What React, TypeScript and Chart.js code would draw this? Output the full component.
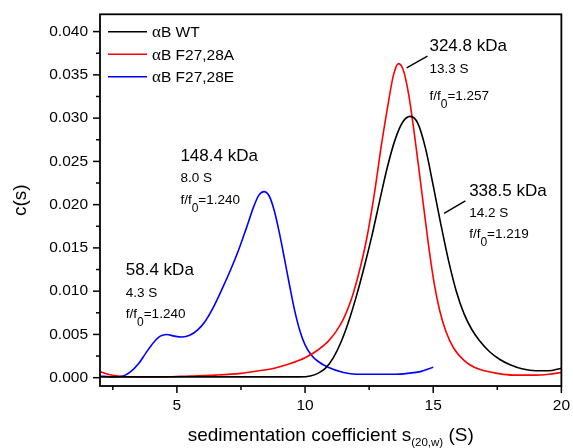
import { useEffect, useRef } from 'react';
import { Chart, registerables } from 'chart.js';

Chart.register(...registerables);

// c(s) distributions, sedimentation coefficient in S
const WT_S = [2.0, 5.0, 8.0, 9.8, 10.2, 10.5, 10.8, 11.1, 11.4, 11.7, 12.0, 12.3, 12.6, 12.9, 13.2, 13.5, 13.8, 14.1, 14.4, 14.7, 15.0, 15.3, 15.6, 15.9, 16.2, 16.5, 16.8, 17.2, 17.6, 18.0, 18.5, 19.0, 19.5, 20.0];
const WT_C = [0.0001, 0.0001, 0.0001, 0.0001, 0.0002, 0.0005, 0.0011, 0.0023, 0.0041, 0.0065, 0.0094, 0.0127, 0.0163, 0.0203, 0.0242, 0.0274, 0.0295, 0.0302, 0.0294, 0.0265, 0.0222, 0.0177, 0.0135, 0.0100, 0.0074, 0.0056, 0.0043, 0.0030, 0.0021, 0.0015, 0.0010, 0.0008, 0.0008, 0.0011];

const F27A_S = [2.0, 2.3, 2.7, 3.5, 4.5, 5.5, 6.5, 7.5, 8.2, 8.8, 9.4, 10.0, 10.5, 10.9, 11.2, 11.5, 11.8, 12.1, 12.4, 12.7, 13.0, 13.25, 13.45, 13.65, 13.85, 14.05, 14.25, 14.45, 14.65, 14.85, 15.05, 15.25, 15.5, 15.8, 16.2, 16.6, 17.0, 17.5, 18.1, 19.0, 19.5, 20.0];
const F27A_C = [0.0007, 0.0004, 0.0002, 0.0001, 0.0001, 0.0002, 0.0003, 0.0005, 0.0008, 0.0011, 0.0016, 0.0023, 0.0032, 0.0042, 0.0053, 0.0068, 0.0090, 0.0121, 0.0160, 0.0212, 0.0273, 0.0318, 0.0350, 0.0363, 0.0354, 0.0326, 0.0285, 0.0239, 0.0192, 0.0146, 0.0107, 0.0078, 0.0053, 0.0034, 0.0020, 0.0012, 0.0008, 0.0005, 0.0003, 0.0003, 0.0004, 0.0006];

const F27E_S = [2.0, 2.5, 2.9, 3.2, 3.5, 3.8, 4.1, 4.35, 4.6, 4.9, 5.2, 5.5, 5.8, 6.1, 6.4, 6.8, 7.1, 7.4, 7.7, 8.0, 8.2, 8.4, 8.6, 8.8, 9.0, 9.2, 9.4, 9.6, 9.8, 10.0, 10.25, 10.5, 10.9, 11.5, 12.0, 12.7, 13.5, 14.0, 14.5, 15.0];
const F27E_C = [0.0002, 0.0001, 0.0002, 0.0007, 0.0016, 0.0029, 0.0041, 0.0048, 0.0050, 0.0048, 0.0047, 0.0049, 0.0055, 0.0065, 0.0080, 0.0105, 0.0125, 0.0147, 0.0172, 0.0198, 0.0211, 0.0215, 0.0210, 0.0193, 0.0167, 0.0137, 0.0106, 0.0077, 0.0054, 0.0038, 0.0026, 0.0019, 0.0012, 0.0006, 0.0004, 0.0004, 0.0004, 0.0005, 0.0007, 0.0012];

const SERIES_NAMES = ['B WT', 'B F27,28A', 'B F27,28E'];
const SERIES_COLORS = ['#000000', '#ff0000', '#0000ff'];

// axis ticks
const X_MIN = 2;
const X_MAX = 20;
const Y_MIN = -0.00096;
const Y_MAX = 0.042;
const X_MAJOR = [5, 10, 15, 20];
const X_MINOR = [2.5, 7.5, 12.5, 17.5];
const Y_MAJOR = [0, 0.005, 0.01, 0.015, 0.02, 0.025, 0.03, 0.035, 0.04];
const Y_MINOR = [0.0025, 0.0075, 0.0125, 0.0175, 0.0225, 0.0275, 0.0325, 0.0375];

// peak labels: anchor (S, c(s)) of the first line, then mass / s-value / frictional ratio
const PEAK_X = [14.853, 16.402, 5.136, 3.007];
const PEAK_Y = [0.03773, 0.02099, 0.02507, 0.01186];
const PEAK_MASS = ['324.8 kDa', '338.5 kDa', '148.4 kDa', '58.4 kDa'];
const PEAK_SVAL = ['13.3 S', '14.2 S', '8.0 S', '4.3 S'];
const PEAK_FF0 = ['1.257', '1.219', '1.240', '1.240'];
const PEAK_LINE2 = [22.2, 21.2, 21.5, 22.3];
const PEAK_LINE3 = [48.3, 41.5, 43, 43];

// leader lines from peaks to their labels
const LEADER_X1 = [13.963, 15.422];
const LEADER_Y1 = [0.03581, 0.0190];
const LEADER_X2 = [14.776, 16.255];
const LEADER_Y2 = [0.03716, 0.02043];

const SANS = '"Liberation Sans", Arial, sans-serif';
const SERIF = '"Liberation Serif", "Times New Roman", serif';

type Part = { text: string; size: number; dy?: number; family?: string };

function partsWidth(ctx: CanvasRenderingContext2D, parts: Part[]) {
  let w = 0;
  for (const p of parts) {
    ctx.font = `${p.size}px ${p.family ?? SANS}`;
    w += ctx.measureText(p.text).width;
  }
  return w;
}

function drawParts(ctx: CanvasRenderingContext2D, x: number, y: number, parts: Part[]) {
  let cx = x;
  for (const p of parts) {
    ctx.font = `${p.size}px ${p.family ?? SANS}`;
    ctx.fillText(p.text, cx, y + (p.dy ?? 0));
    cx += ctx.measureText(p.text).width;
  }
  return cx;
}

const decorPlugin = {
  id: 'decor',
  afterDraw(chart: any) {
    const { ctx, chartArea: a } = chart;
    const xs = chart.scales.x;
    const ys = chart.scales.y;
    ctx.save();

    // frame
    ctx.strokeStyle = '#000';
    ctx.lineWidth = 1.8;
    ctx.strokeRect(a.left, a.top, a.right - a.left, a.bottom - a.top);

    // outward tick marks
    ctx.lineWidth = 1.5;
    const seg = (x1: number, y1: number, x2: number, y2: number) => {
      ctx.beginPath();
      ctx.moveTo(x1, y1);
      ctx.lineTo(x2, y2);
      ctx.stroke();
    };
    X_MAJOR.forEach((v) => { const p = xs.getPixelForValue(v); seg(p, a.bottom, p, a.bottom + 7); });
    X_MINOR.forEach((v) => { const p = xs.getPixelForValue(v); seg(p, a.bottom, p, a.bottom + 4); });
    Y_MAJOR.forEach((v) => { const p = ys.getPixelForValue(v); seg(a.left, p, a.left - 7, p); });
    Y_MINOR.forEach((v) => { const p = ys.getPixelForValue(v); seg(a.left, p, a.left - 4, p); });

    ctx.fillStyle = '#000';
    ctx.textBaseline = 'alphabetic';
    ctx.textAlign = 'left';

    // x title with subscript
    const xt: Part[] = [
      { text: 'sedimentation coefficient s', size: 19 },
      { text: '(20,w)', size: 11.5, dy: 5 },
      { text: ' (S)', size: 19 },
    ];
    const cxMid = (a.left + a.right) / 2;
    drawParts(ctx, cxMid - partsWidth(ctx, xt) / 2, 441, xt);

    // y title
    ctx.save();
    ctx.translate(21, (a.top + a.bottom) / 2);
    ctx.rotate(-Math.PI / 2);
    ctx.font = `19px ${SANS}`;
    ctx.textAlign = 'center';
    ctx.textBaseline = 'middle';
    ctx.fillText('c(s)', 0, 0);
    ctx.restore();

    // legend
    const legendY = [30.5, 53, 75.5];
    SERIES_NAMES.forEach((name, i) => {
      const y = a.top + legendY[i] - 13;
      ctx.strokeStyle = SERIES_COLORS[i];
      ctx.lineWidth = 1.6;
      seg(a.left + 8, y, a.left + 47, y);
      drawParts(ctx, a.left + 52, y + 5.5, [
        { text: '\u03b1', size: 17, family: SERIF },
        { text: name, size: 15.5 },
      ]);
    });

    // peak labels
    PEAK_MASS.forEach((mass, i) => {
      const x = xs.getPixelForValue(PEAK_X[i]);
      const y = ys.getPixelForValue(PEAK_Y[i]);
      drawParts(ctx, x, y, [{ text: mass, size: 17 }]);
      drawParts(ctx, x, y + PEAK_LINE2[i], [{ text: PEAK_SVAL[i], size: 13.5 }]);
      drawParts(ctx, x, y + PEAK_LINE3[i], [
        { text: 'f/f', size: 13.5 },
        { text: '0', size: 12, dy: 8 },
        { text: '=' + PEAK_FF0[i], size: 13.5 },
      ]);
    });

    // leaders
    ctx.strokeStyle = '#000';
    ctx.lineWidth = 1.4;
    LEADER_X1.forEach((_, i) => {
      seg(
        xs.getPixelForValue(LEADER_X1[i]), ys.getPixelForValue(LEADER_Y1[i]),
        xs.getPixelForValue(LEADER_X2[i]), ys.getPixelForValue(LEADER_Y2[i]),
      );
    });

    ctx.restore();
  },
};

function pairs(xs: number[], ys: number[]) {
  return xs.map((x, i) => ({ x, y: ys[i] }));
}

export default function App() {
  const ref = useRef<HTMLCanvasElement | null>(null);

  useEffect(() => {
    if (!ref.current) return;
    const mk = (label: string, xs: number[], ys: number[], color: string) => ({
      label,
      data: pairs(xs, ys),
      borderColor: color,
      backgroundColor: color,
      borderWidth: 1.6,
      pointRadius: 0,
      fill: false,
      tension: 0.4,
      cubicInterpolationMode: 'monotone' as const,
    });
    const chart = new Chart(ref.current, {
      type: 'line',
      data: {
        datasets: [
          mk('\u03b1B WT', WT_S, WT_C, SERIES_COLORS[0]),
          mk('\u03b1B F27,28A', F27A_S, F27A_C, SERIES_COLORS[1]),
          mk('\u03b1B F27,28E', F27E_S, F27E_C, SERIES_COLORS[2]),
        ],
      },
      options: {
        animation: false,
        responsive: false,
        devicePixelRatio: 1,
        layout: { padding: { left: 8, top: 13, right: 8, bottom: 0 } },
        plugins: { legend: { display: false }, tooltip: { enabled: false } },
        scales: {
          x: {
            type: 'linear',
            min: X_MIN,
            max: X_MAX,
            grid: { display: false, drawTicks: true, tickLength: 7 },
            border: { display: false },
            afterBuildTicks: (s: any) => { s.ticks = X_MAJOR.map((value) => ({ value })); },
            afterFit: (s: any) => { s.height = 62; },
            ticks: {
              padding: 3,
              color: '#000',
              font: { family: SANS, size: 15.5 },
              maxRotation: 0,
              callback: (v: any) => String(v),
            },
          },
          y: {
            type: 'linear',
            min: Y_MIN,
            max: Y_MAX,
            grid: { display: false, drawTicks: true, tickLength: 7 },
            border: { display: false },
            afterBuildTicks: (s: any) => { s.ticks = Y_MAJOR.map((value) => ({ value })); },
            afterFit: (s: any) => { s.width = 92; },
            ticks: {
              padding: 5,
              color: '#000',
              font: { family: SANS, size: 15.5 },
              callback: (v: any) => Number(v).toFixed(3),
            },
          },
        },
      },
      plugins: [decorPlugin],
    });
    return () => chart.destroy();
  }, []);

  return (
    <div style={{ position: 'fixed', left: 0, top: 0, width: 573, height: 448, background: '#fff' }}>
      <canvas ref={ref} width={573} height={448} style={{ display: 'block' }} />
    </div>
  );
}
